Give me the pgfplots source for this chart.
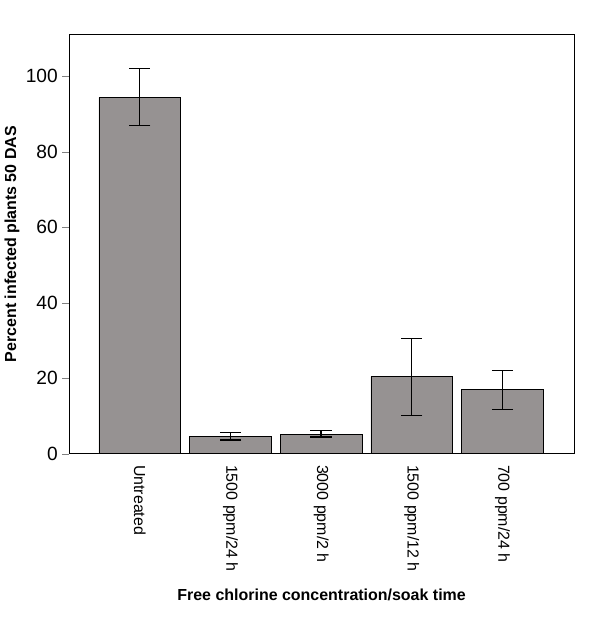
\documentclass[border=0pt]{standalone}
\usepackage{pgfplots}
\pgfplotsset{compat=1.18}
\usepackage{fontspec}
\setmainfont{Liberation Sans}
\definecolor{barg}{RGB}{150,146,146}
\begin{document}
\begin{tikzpicture}
\begin{axis}[
  width=379.5pt, height=315pt, scale only axis,
  xmin=-0.78, xmax=4.79, ymin=0, ymax=111,
  xtick={0,1,2,3,4},
  xticklabels={Untreated,1500 ppm/24 h,3000 ppm/2 h,1500 ppm/12 h,700 ppm/24 h},
  xticklabel style={rotate=-90, anchor=west, font=\large},
  major x tick style={draw=none},
  ytick={0,20,40,60,80,100},
  ytick pos=left,
  yticklabel style={font=\Large},
  /pgf/number format/assume math mode=true,
  ylabel={\textbf{Percent infected plants 50 DAS}},
  xlabel={\textbf{Free chlorine concentration/soak time}},
  label style={font=\large},
  ylabel style={yshift=-2pt},
  xlabel style={yshift=-6pt},
  tick align=outside,
  major tick length=5pt,
  clip=false,
]
\addplot[ybar, bar width=61.5pt, fill=barg, draw=black,
  error bars/.cd, y dir=both, y explicit, error mark options={rotate=90, mark size=8pt, line width=1pt}, error bar style={line width=1pt}]
coordinates {
  (0,94.3) += (0,7.7) -= (0,7.3)
  (1,4.6) += (0,1.0) -= (0,1.0)
  (2,5.2) += (0,0.9) -= (0,0.8)
  (3,20.4) += (0,10.1) -= (0,10.2)
  (4,17.0) += (0,5.0) -= (0,5.2)
};
\path (rel axis cs:1,1) ++(27pt,26pt);
\path (rel axis cs:0,0) ++(0,-140pt);
\end{axis}
\end{tikzpicture}
\end{document}
